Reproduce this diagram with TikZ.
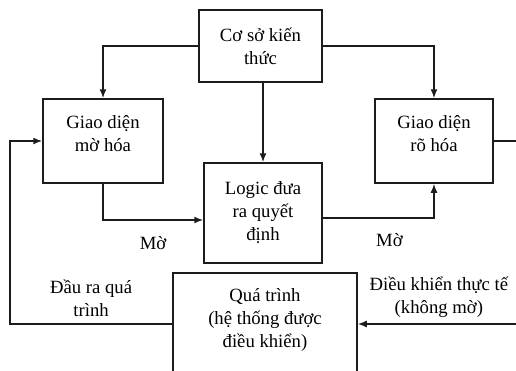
\documentclass[tikz,border=0pt]{standalone}
\usepackage{fontspec}
\setmainfont{Liberation Serif}
\usetikzlibrary{arrows.meta,positioning}
\definecolor{lineblack}{RGB}{28,28,28}

\begin{document}
\begin{tikzpicture}[
  x=1pt, y=-1pt,
  every node/.style={font=\fontsize{18.7}{23}\selectfont},
  box/.style={rectangle, draw=lineblack, align=center, line width=1.5pt},
  lbl/.style={align=center, inner sep=1pt},
  arr/.style={-{Latex[length=9pt,width=7pt]}, line width=1.5pt, draw=lineblack}
]
\useasboundingbox (0,0) rectangle (516,370);
\node[box, minimum width=123pt, minimum height=72pt] (kb) at (260.5,46) {Cơ sở kiến\\thức};
\node[box, minimum width=120pt, minimum height=84pt] (fuz) at (103,141) {Giao diện\\mờ hóa\\[-7pt]};
\node[box, minimum width=118pt, minimum height=84pt] (defuz) at (434,141) {Giao diện\\rõ hóa\\[-7pt]};
\node[box, minimum width=118pt, minimum height=100pt] (logic) at (263,213) {Logic đưa\\ra quyết\\định};
\node[box, minimum width=184pt, minimum height=110pt, anchor=north] (plant) at (265,272) {Quá trình\\(hệ thống được\\điều khiển)\\[-3pt]};

\coordinate (rt1) at (520,141);
\coordinate (rt2) at (520,324);
\coordinate (lf) at (10,230);

\draw[arr] (kb.west) -| (fuz.north);
\draw[arr] (kb.east) -| (defuz.north);
\draw[arr] (kb.south -| logic.north) -- (logic.north);
\draw[arr] (fuz.south) |- node[lbl, below=15pt, pos=0.75] (m1) {Mờ} ([yshift=-7pt]logic.west);
\draw[arr] ([yshift=-5pt]logic.east) -| node[lbl, below=14pt, pos=0.3] (m2) {Mờ} (defuz.south);
\draw[arr] (defuz.east) -- (rt1) -- (rt2) -- node[lbl, above=5pt, pos=0.5] (ctl) {Điều khiển thực tế\\(không mờ)} (rt2 -| plant.east);
\draw[arr] (plant.west |- rt2) -| node[lbl, above=6pt, pos=0.25] (out) {Đầu ra quá\\trình} (lf) |- (fuz.west);
\end{tikzpicture}
\end{document}
